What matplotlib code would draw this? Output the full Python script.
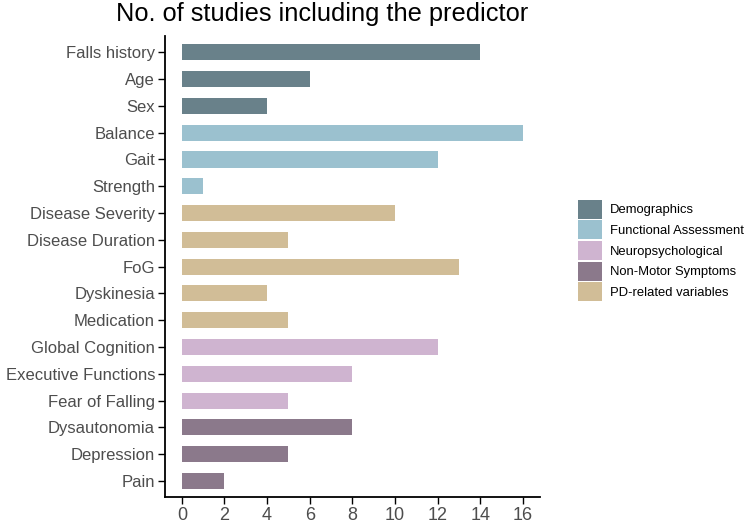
import matplotlib
matplotlib.use("Agg")
import matplotlib.pyplot as plt
from matplotlib.patches import Patch

plt.rcParams['font.family'] = ['Liberation Sans', 'DejaVu Sans']

predictors = ['Falls history', 'Age', 'Sex', 'Balance', 'Gait', 'Strength',
              'Disease Severity', 'Disease Duration', 'FoG', 'Dyskinesia', 'Medication',
              'Global Cognition', 'Executive Functions', 'Fear of Falling',
              'Dysautonomia', 'Depression', 'Pain']
counts = [14, 6, 4, 16, 12, 1, 10, 5, 13, 4, 5, 12, 8, 5, 8, 5, 2]
groups = ['Demographics'] * 3 + ['Functional Assessment'] * 3 + ['PD-related variables'] * 5 \
    + ['Neuropsychological'] * 3 + ['Non-Motor Symptoms'] * 3
group_order = ['Demographics', 'Functional Assessment', 'Neuropsychological',
               'Non-Motor Symptoms', 'PD-related variables']
palette = {'Demographics': '#69818a', 'Functional Assessment': '#9bc1cf',
           'Neuropsychological': '#cfb4d0', 'Non-Motor Symptoms': '#8b798b',
           'PD-related variables': '#d1bd97'}

fig = plt.figure(figsize=(7.49, 5.23), dpi=100)
ax = fig.add_axes([0.220, 0.0497, 0.501, 0.881])

ypos = list(range(len(predictors)))
ax.barh(ypos, counts, height=0.6, color=[palette[g] for g in groups])
ax.set_yticks(ypos, labels=predictors)
ax.set_ylim(len(predictors) - 0.4, -0.6)
ax.set_xlim(-0.8, 16.8)
ax.set_xticks(range(0, 17, 2))

for s in ['top', 'right']:
    ax.spines[s].set_visible(False)
for s in ['left', 'bottom']:
    ax.spines[s].set_linewidth(1.3)
ax.tick_params(axis='both', labelcolor='#4d4d4d', length=5, width=1, pad=2)
ax.tick_params(axis='y', labelsize=12)
ax.tick_params(axis='x', labelsize=13)

# title sits a bit left of the panel centre, like the original
fig.text(0.430, 0.960, 'No. of studies including the predictor', fontsize=18.3,
         ha='center', va='baseline')

handles = [Patch(facecolor=palette[g], label=g) for g in group_order]
fig.legend(handles=handles, loc='center left', bbox_to_anchor=(0.7717, 0.521),
           frameon=False, fontsize=9.4, handlelength=1.84, handleheight=1.84,
           handletextpad=0.61, labelspacing=0.14, borderpad=0, borderaxespad=0)

fig.savefig('out.png', dpi=100)
